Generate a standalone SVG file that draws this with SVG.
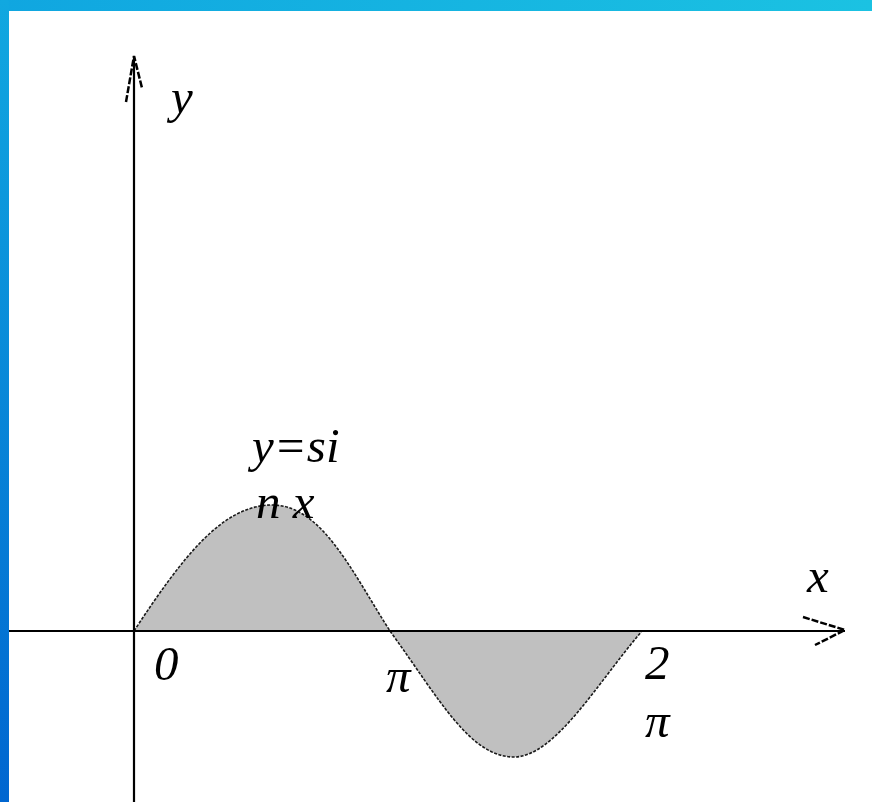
<svg xmlns="http://www.w3.org/2000/svg" width="872" height="802" viewBox="0 0 872 802">
<defs>
<linearGradient id="topbar" x1="0" y1="0" x2="1" y2="0">
<stop offset="0" stop-color="#10a6e0"/>
<stop offset="1" stop-color="#1bc2e2"/>
</linearGradient>
<linearGradient id="leftbar" x1="0" y1="0" x2="0" y2="1">
<stop offset="0" stop-color="#11a8e0"/>
<stop offset="1" stop-color="#0066d0"/>
</linearGradient>
</defs>
<style>
.axis{stroke:#000;stroke-width:2.2;fill:none}
.arrow{stroke:#000;stroke-width:2.5;fill:none;stroke-dasharray:7 2}
.area{fill:#c0c0c0;stroke:#1a1a1a;stroke-width:1.6;stroke-dasharray:3 1.5}
.lbl{font-family:"Liberation Serif","Times New Roman",serif;font-style:italic;font-size:49px;fill:#000}
</style>
<rect x="0" y="0" width="872" height="802" fill="#fff"/>
<rect x="0" y="0" width="872" height="11" fill="url(#topbar)"/>
<rect x="0" y="0" width="9" height="802" fill="url(#leftbar)"/>
<g id="curve">
<path class="area" d="M134,631 C182,558 222,505 272,505 C322,505 352,572 390,631 Z"/>
<path class="area" d="M390,631 C440,700 470,757 514,757 C555,757 598,682 642,631 Z"/>
</g>
<g id="connectors">
<line class="axis" x1="9" y1="631" x2="845" y2="631"/>
<line class="axis" x1="134" y1="56" x2="134" y2="802"/>
<path class="arrow" d="M803,617 L845,630 L815,645"/>
<path class="arrow" d="M126,102 L134,56 L142,88"/>
</g>
<g id="labels">
<text class="lbl" x="171" y="113">y</text>
<text class="lbl" x="807" y="592">x</text>
<text class="lbl" x="252" y="462">y=si</text>
<text class="lbl" x="256" y="518">n x</text>
<text class="lbl" x="154" y="680">0</text>
<text class="lbl" x="386" y="692">π</text>
<text class="lbl" x="645" y="679">2</text>
<text class="lbl" x="645" y="737">π</text>
</g>
</svg>
